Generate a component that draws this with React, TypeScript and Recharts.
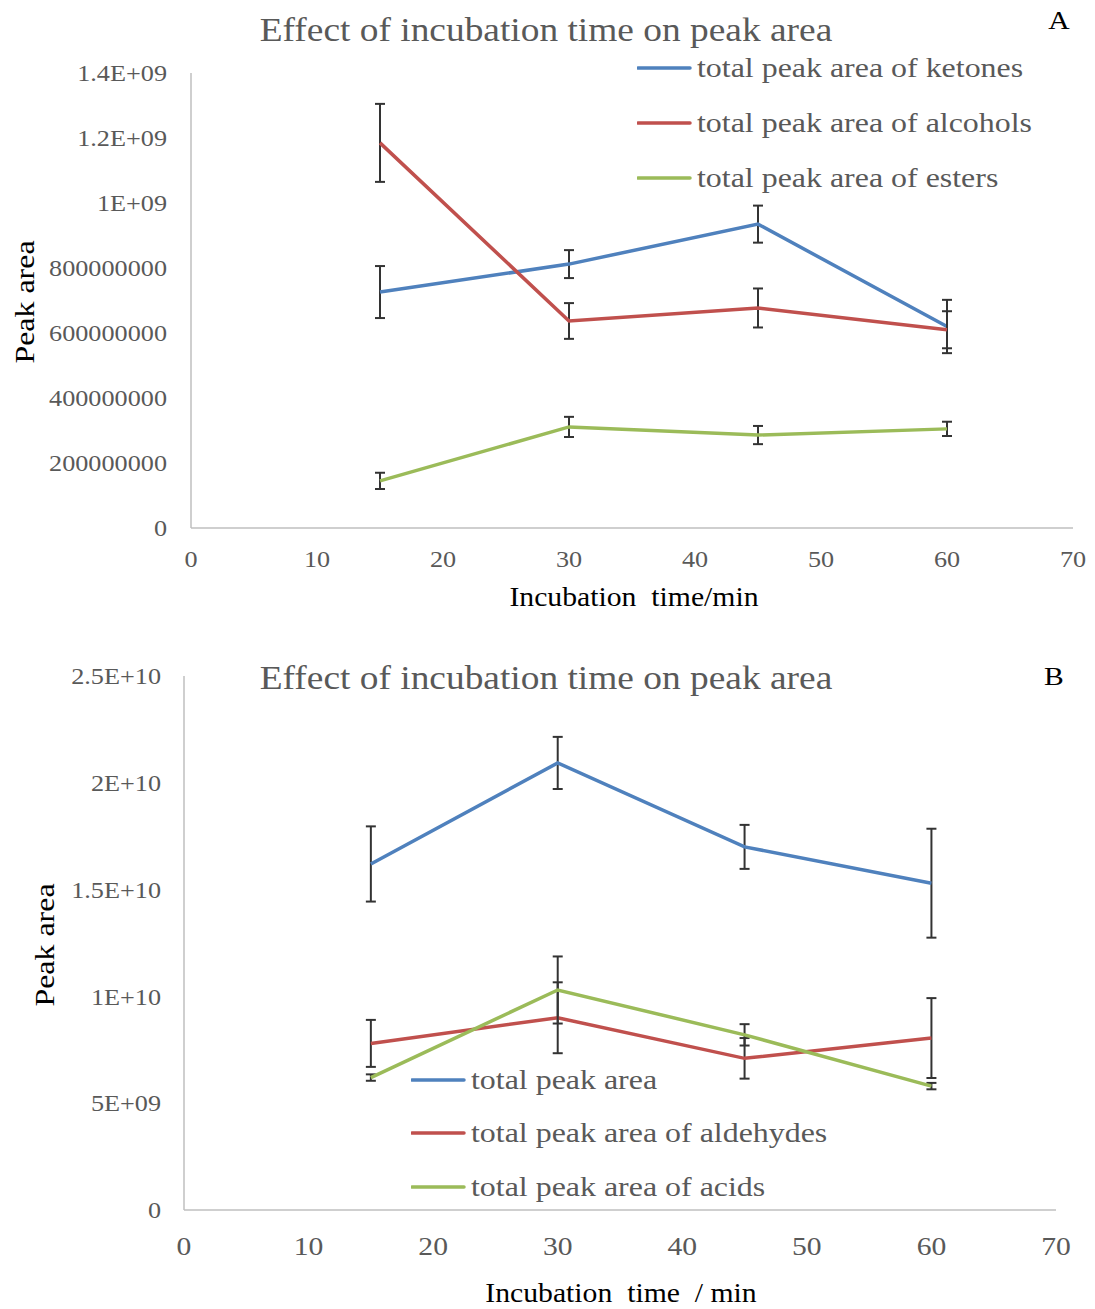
import React from 'react'
import { LineChart, Line, XAxis, YAxis, ErrorBar } from 'recharts'

// incubation times (min) and x-axis ticks shared by both panels
const times = [15, 30, 45, 60]
const xTicks = [0, 10, 20, 30, 40, 50, 60, 70]

// panel A
const ketones = [7.26e8, 8.12e8, 9.35e8, 6.2e8]
const ketonesErr = [0.8e8, 0.43e8, 0.57e8, 0.82e8]
const alcohols = [1.185e9, 6.37e8, 6.77e8, 6.1e8]
const alcoholsErr = [1.2e8, 0.55e8, 0.6e8, 0.57e8]
const esters = [1.45e8, 3.11e8, 2.86e8, 3.05e8]
const estersErr = [0.25e8, 0.31e8, 0.28e8, 0.22e8]
const yTicksA = [0, 2e8, 4e8, 6e8, 8e8, 1e9, 1.2e9, 1.4e9]

// panel B
const total = [1.62e10, 2.093e10, 1.7e10, 1.53e10]
const totalErr = [1.76e9, 1.22e9, 1.03e9, 2.55e9]
const aldehydes = [7.8e9, 9.0e9, 7.1e9, 8.05e9]
const aldehydesErr = [1.1e9, 1.66e9, 0.95e9, 1.87e9]
const acids = [6.2e9, 1.03e10, 8.2e9, 5.8e9]
const acidsErr = [0.15e9, 1.57e9, 0.5e9, 0.15e9]
const yTicksB = [0, 5e9, 1e10, 1.5e10, 2e10, 2.5e10]

const BLUE = '#4f81bd'
const RED = '#c0504d'
const GREEN = '#9bbb59'
const GREY = '#595959'
const FONT = '"Liberation Serif", "Times New Roman", serif'
// the original text is a little wider than Times at its height
const STRETCH = 1.14

const dataA = times.map((t, i) => ({
  t,
  ketones: ketones[i],
  ketonesErr: ketonesErr[i],
  alcohols: alcohols[i],
  alcoholsErr: alcoholsErr[i],
  esters: esters[i],
  estersErr: estersErr[i],
}))

const dataB = times.map((t, i) => ({
  t,
  total: total[i],
  totalErr: totalErr[i],
  aldehydes: aldehydes[i],
  aldehydesErr: aldehydesErr[i],
  acids: acids[i],
  acidsErr: acidsErr[i],
}))

// Excel style scientific labels, e.g. 1.2E+09
const sci = (v: number) => {
  if (v === 0) return '0'
  const exp = Math.floor(Math.log10(v))
  const mant = parseFloat((v / Math.pow(10, exp)).toFixed(2))
  return `${mant}E+${String(exp).padStart(2, '0')}`
}
const fmtA = (v: number) => (v < 1e9 ? String(v) : sci(v))
const plain = (v: number) => String(v)

// tick text stretched horizontally around its anchor point
const makeTick =
  (fontSize: number, dy: string, fmt: (v: number) => string) =>
  (props: any) => {
    const { x, y, payload, textAnchor } = props
    return (
      <g transform={`translate(${x},${y}) scale(${STRETCH},1)`}>
        <text x={0} y={0} dy={dy} textAnchor={textAnchor} fill={GREY} fontFamily={FONT} fontSize={fontSize}>
          {fmt(payload.value)}
        </text>
      </g>
    )
  }

type LegendItem = { label: string; color: string }

const LegendBox = ({
  items,
  left,
  top,
  gap,
  size,
}: {
  items: LegendItem[]
  left: number
  top: number
  gap: number
  size: number
}) => (
  <div style={{ position: 'absolute', left, top, fontFamily: FONT, fontSize: size, color: GREY }}>
    {items.map((it) => (
      <div key={it.label} style={{ height: gap, display: 'flex', alignItems: 'center', whiteSpace: 'nowrap' }}>
        <svg width={60} height={6}>
          <line x1={1} y1={3} x2={53} y2={3} stroke={it.color} strokeWidth={3.5} strokeLinecap="round" />
        </svg>
        <span style={{ display: 'inline-block', transform: `scaleX(${STRETCH})`, transformOrigin: 'left center' }}>
          {it.label}
        </span>
      </div>
    ))}
  </div>
)

const textAbs = (
  text: string,
  cx: number,
  cy: number,
  size: number,
  color: string,
  rotate = false,
  sx = STRETCH,
) => (
  <div
    style={{
      position: 'absolute',
      left: cx,
      top: cy,
      transform: `translate(-50%, -50%)${rotate ? ' rotate(-90deg)' : ''} scaleX(${sx})`,
      fontFamily: FONT,
      fontSize: size,
      color,
      whiteSpace: 'pre',
      lineHeight: 1,
    }}
  >
    {text}
  </div>
)

const axisLine = { stroke: '#bfbfbf', strokeWidth: 1.5 }
const errProps = { direction: 'y' as const, width: 5, stroke: '#333', strokeWidth: 2 }

export default function App() {
  return (
    <div style={{ position: 'absolute', left: 0, top: 0, width: 1095, height: 1309, background: '#fff' }}>
      {/* Panel A */}
      <div style={{ position: 'absolute', left: 0, top: 0, width: 1095, height: 640 }}>
        <LineChart width={1095} height={640} data={dataA} margin={{ top: 73, right: 22, left: 91, bottom: 72 }}>
          <XAxis
            dataKey="t"
            type="number"
            domain={[0, 70]}
            ticks={xTicks}
            tick={makeTick(23, '0.71em', plain)}
            tickLine={false}
            tickSize={6}
            tickMargin={17}
            axisLine={axisLine}
            height={40}
          />
          <YAxis
            type="number"
            domain={[0, 1.4e9]}
            ticks={yTicksA}
            tick={makeTick(23, '0.355em', fmtA)}
            tickLine={false}
            tickSize={6}
            tickMargin={18}
            axisLine={axisLine}
            width={100}
          />
          <Line dataKey="ketones" stroke={BLUE} strokeWidth={3.5} dot={false} isAnimationActive={false}>
            <ErrorBar dataKey="ketonesErr" {...errProps} />
          </Line>
          <Line dataKey="alcohols" stroke={RED} strokeWidth={3.5} dot={false} isAnimationActive={false}>
            <ErrorBar dataKey="alcoholsErr" {...errProps} />
          </Line>
          <Line dataKey="esters" stroke={GREEN} strokeWidth={3.5} dot={false} isAnimationActive={false}>
            <ErrorBar dataKey="estersErr" {...errProps} />
          </Line>
        </LineChart>
        {textAbs('Effect of incubation time on peak area', 546, 30, 34, GREY, false, 1.1)}
        {textAbs('A', 1059, 21, 26, '#000')}
        {textAbs('Peak area', 25, 302, 28, '#000', true)}
        {textAbs('Incubation  time/min', 634, 597, 27, '#000', false, 1.1)}
        <LegendBox
          left={637}
          top={40}
          gap={55}
          size={28}
          items={[
            { label: 'total peak area of ketones', color: BLUE },
            { label: 'total peak area of alcohols', color: RED },
            { label: 'total peak area of esters', color: GREEN },
          ]}
        />
      </div>

      {/* Panel B */}
      <div style={{ position: 'absolute', left: 0, top: 640, width: 1095, height: 669 }}>
        <LineChart width={1095} height={669} data={dataB} margin={{ top: 36, right: 39, left: 84, bottom: 59 }}>
          <XAxis
            dataKey="t"
            type="number"
            domain={[0, 70]}
            ticks={xTicks}
            tick={makeTick(26, '0.71em', plain)}
            tickLine={false}
            tickSize={6}
            tickMargin={21}
            axisLine={axisLine}
            height={40}
          />
          <YAxis
            type="number"
            domain={[0, 2.5e10]}
            ticks={yTicksB}
            tick={makeTick(23, '0.355em', sci)}
            tickLine={false}
            tickSize={6}
            tickMargin={17}
            axisLine={axisLine}
            width={100}
          />
          <Line dataKey="total" stroke={BLUE} strokeWidth={3.5} dot={false} isAnimationActive={false}>
            <ErrorBar dataKey="totalErr" {...errProps} />
          </Line>
          <Line dataKey="aldehydes" stroke={RED} strokeWidth={3.5} dot={false} isAnimationActive={false}>
            <ErrorBar dataKey="aldehydesErr" {...errProps} />
          </Line>
          <Line dataKey="acids" stroke={GREEN} strokeWidth={3.5} dot={false} isAnimationActive={false}>
            <ErrorBar dataKey="acidsErr" {...errProps} />
          </Line>
        </LineChart>
        {textAbs('Effect of incubation time on peak area', 546, 38, 34, GREY, false, 1.1)}
        {textAbs('B', 1054, 37, 26, '#000')}
        {textAbs('Peak area', 45, 305, 28, '#000', true)}
        {textAbs('Incubation  time  / min', 621, 653, 27, '#000', false, 1.1)}
        <LegendBox
          left={411}
          top={413}
          gap={53.5}
          size={28}
          items={[
            { label: 'total peak area', color: BLUE },
            { label: 'total peak area of aldehydes', color: RED },
            { label: 'total peak area of acids', color: GREEN },
          ]}
        />
      </div>
    </div>
  )
}
